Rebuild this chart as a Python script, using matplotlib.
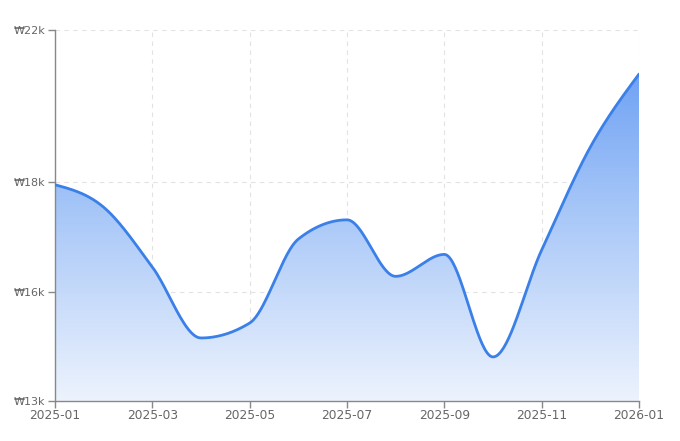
import numpy as np
import matplotlib
matplotlib.use("Agg")
import matplotlib.pyplot as plt
from matplotlib.ticker import FixedLocator, FuncFormatter, NullLocator
from matplotlib.colors import LinearSegmentedColormap

# monthly price (KRW), months evenly spaced on the x axis
months = ["2025-01", "2025-02", "2025-03", "2025-04", "2025-05", "2025-06", "2025-07",
          "2025-08", "2025-09", "2025-10", "2025-11", "2025-12", "2026-01"]
prices = [17950, 17540, 16450, 14730, 15140, 16960, 17310,
          16280, 16680, 14210, 16760, 18920, 20840]

# the y axis is piecewise: tick values and their height above the baseline (px)
y_ticks = [13000, 16000, 18000, 22000]
y_tick_px = [0, 109.3, 219, 371]
x_tick_labels = months[::2]


def fwd(v):
    return np.interp(v, y_ticks, y_tick_px)


def inv(p):
    return np.interp(p, y_tick_px, y_ticks)


def monotone_x(x, y, n=40):
    # same smoothing as d3.curveMonotoneX
    x = np.asarray(x, float)
    y = np.asarray(y, float)
    h = np.diff(x)
    s = np.diff(y) / h
    t = np.zeros(len(x))
    for i in range(1, len(x) - 1):
        p = (s[i - 1] * h[i] + s[i] * h[i - 1]) / (h[i - 1] + h[i])
        t[i] = (np.sign(s[i - 1]) + np.sign(s[i])) * min(abs(s[i - 1]), abs(s[i]), 0.5 * abs(p))
    t[0] = (3 * s[0] - t[1]) / 2
    t[-1] = (3 * s[-1] - t[-2]) / 2
    xs, ys = [], []
    for i in range(len(x) - 1):
        u = np.linspace(0, 1, n, endpoint=(i == len(x) - 2))
        h00 = 2 * u**3 - 3 * u**2 + 1
        h10 = u**3 - 2 * u**2 + u
        h01 = -2 * u**3 + 3 * u**2
        h11 = u**3 - u**2
        xs.append(x[i] + u * h[i])
        ys.append(h00 * y[i] + h10 * h[i] * t[i] + h01 * y[i + 1] + h11 * h[i] * t[i + 1])
    return np.concatenate(xs), np.concatenate(ys)


fig = plt.figure(figsize=(6.8, 4.41), dpi=100)
ax = fig.add_axes([55 / 680, 40 / 441, 584 / 680, 371 / 441])
ax.set_yscale("function", functions=(fwd, inv))

xi = np.arange(len(months))
sx, sy = monotone_x(xi, fwd(prices))
sy = inv(sy)

ax.set_xlim(0, len(months) - 1)
ax.set_ylim(13000, 22000)

# gradient area under the line
fill = ax.fill_between(sx, sy, 13000, facecolor="none", lw=0)
cmap = LinearSegmentedColormap.from_list("g", ["#edf3fd", "#a9c8f8", "#5f97f3"])
grad = np.linspace(0, 1, 256).reshape(-1, 1)
im = ax.imshow(grad, cmap=cmap, aspect="auto", extent=[0, 1, 0, 1],
               transform=ax.transAxes, origin="lower", zorder=1)
im.set_clip_path(fill.get_paths()[0], transform=ax.transData)

ax.plot(sx, sy, color="#3a80e8", lw=2.0, zorder=3, solid_capstyle="round")

ax.yaxis.set_major_locator(FixedLocator(y_ticks))
ax.yaxis.set_minor_locator(NullLocator())
ax.yaxis.set_major_formatter(FuncFormatter(lambda v, _: "₩{:.0f}k".format(v / 1000)))
ax.set_xticks(xi[::2])
ax.set_xticklabels(x_tick_labels)

ax.grid(True, color="#e2e2e2", linestyle=(0, (4, 4)), lw=0.8, zorder=0)
ax.set_axisbelow(True)
for side in ["top", "right"]:
    ax.spines[side].set_visible(False)
for side in ["left", "bottom"]:
    ax.spines[side].set_color("#888888")
    ax.spines[side].set_linewidth(1.0)
ax.tick_params(colors="#888888", labelcolor="#666666", length=5, width=1)
ax.tick_params(axis="y", pad=2, labelsize=8)
ax.tick_params(axis="x", pad=1, labelsize=8.8)

fig.savefig("out.png", dpi=100)
